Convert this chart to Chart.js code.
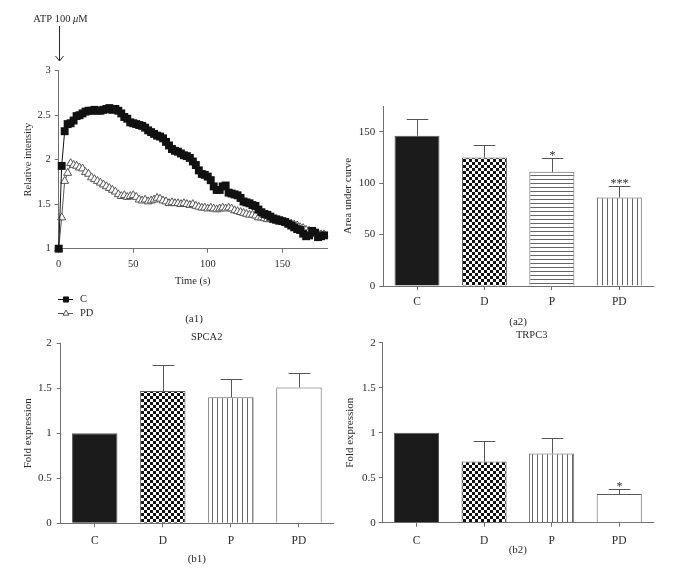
<!DOCTYPE html>
<html>
<head>
<meta charset="utf-8">
<script src="https://cdn.jsdelivr.net/npm/chart.js@4.4.1/dist/chart.umd.min.js"></script>
<style>
html, body { margin: 0; padding: 0; background: #fff; }
#wrap { position: relative; width: 684px; height: 573px; overflow: hidden; }
canvas { position: absolute; }
</style>
</head>
<body>
<div id="wrap">
  <canvas id="a1" width="340" height="330" style="left:0px;top:0px;width:340px;height:330px"></canvas>
  <canvas id="a2" width="344" height="270" style="left:340px;top:60px;width:344px;height:270px"></canvas>
  <canvas id="b1" width="340" height="243" style="left:0px;top:330px;width:340px;height:243px"></canvas>
  <canvas id="b2" width="344" height="243" style="left:340px;top:330px;width:344px;height:243px"></canvas>
</div>
<script>
// --- data ---
const timeSec = [0, 2, 4, 6, 8, 10, 12, 14, 16, 18, 20, 22, 24, 26, 28, 30, 32, 34, 36, 38,
  40, 42, 44, 46, 48, 50, 52, 54, 56, 58, 60, 62, 64, 66, 68, 70, 72, 74, 76, 78,
  80, 82, 84, 86, 88, 90, 92, 94, 96, 98, 100, 102, 104, 106, 108, 110, 112, 114, 116, 118,
  120, 122, 124, 126, 128, 130, 132, 134, 136, 138, 140, 142, 144, 146, 148, 150, 152, 154, 156, 158,
  160, 162, 164, 166, 168, 170, 172, 174, 176, 178];

const controlIntensity = [1.00, 1.93, 2.32, 2.40, 2.41, 2.44, 2.49, 2.50, 2.52, 2.54,
  2.55, 2.55, 2.56, 2.55, 2.55, 2.56, 2.57, 2.58, 2.56, 2.57,
  2.55, 2.52, 2.48, 2.46, 2.42, 2.41, 2.40, 2.39, 2.38, 2.36,
  2.33, 2.31, 2.29, 2.27, 2.26, 2.24, 2.20, 2.16, 2.12, 2.10,
  2.09, 2.07, 2.05, 2.04, 2.02, 1.98, 1.94, 1.88, 1.84, 1.83,
  1.81, 1.77, 1.70, 1.66, 1.66, 1.70, 1.71, 1.63, 1.62, 1.61,
  1.60, 1.57, 1.53, 1.52, 1.51, 1.49, 1.48, 1.44, 1.41, 1.39,
  1.38, 1.36, 1.34, 1.33, 1.32, 1.31, 1.30, 1.28, 1.26, 1.24,
  1.22, 1.21, 1.17, 1.14, 1.15, 1.20, 1.18, 1.13, 1.14, 1.15];

const pdIntensity = [1.00, 1.35, 1.76, 1.85, 1.96, 1.94, 1.93, 1.91, 1.90, 1.86,
  1.84, 1.80, 1.78, 1.76, 1.74, 1.72, 1.70, 1.68, 1.66, 1.64,
  1.61, 1.59, 1.60, 1.58, 1.59, 1.60, 1.58, 1.55, 1.54, 1.55,
  1.53, 1.54, 1.55, 1.57, 1.56, 1.54, 1.53, 1.51, 1.52, 1.51,
  1.51, 1.50, 1.51, 1.50, 1.49, 1.50, 1.48, 1.47, 1.46, 1.46,
  1.45, 1.46, 1.45, 1.44, 1.45, 1.46, 1.45, 1.46, 1.45, 1.43,
  1.42, 1.41, 1.40, 1.39, 1.38, 1.38, 1.37, 1.35, 1.35, 1.34,
  1.33, 1.33, 1.32, 1.31, 1.30, 1.30, 1.29, 1.28, 1.28, 1.27,
  1.26, 1.24, 1.23, 1.21, 1.20, 1.19, 1.18, 1.17, 1.16, 1.16];

const groups = ['C', 'D', 'P', 'PD'];

const aucMean = [146, 125, 111, 86];
const aucSem = [16, 12, 13, 11];
const aucStars = ['', '', '*', '***'];

const spcaMean = [1.0, 1.47, 1.40, 1.51];
const spcaSem = [0, 0.29, 0.20, 0.16];
const spcaStars = ['', '', '', ''];

const trpcMean = [1.0, 0.68, 0.77, 0.32];
const trpcSem = [0, 0.23, 0.17, 0.06];
const trpcStars = ['', '', '', '*'];

const a1XTicks = [0, 50, 100, 150];
const a1YTicks = [1, 1.5, 2, 2.5, 3];

// --- common look ---
const SERIF = "'Liberation Serif', 'Times New Roman', serif";
const AXIS = '#707070';
const INK = '#2a2a2a';
Chart.defaults.font.family = SERIF;
Chart.defaults.color = INK;

// fill patterns for the bars
function makePattern(kind) {
    const c = document.createElement('canvas');
    const g = c.getContext('2d');
    if (kind === 'checker') {
        c.width = 6; c.height = 6;
        g.fillStyle = '#fff'; g.fillRect(0, 0, 6, 6);
        g.fillStyle = '#111';
        g.fillRect(0, 0, 3, 3); g.fillRect(3, 3, 3, 3);
    } else if (kind === 'hlines') {
        c.width = 4; c.height = 4;
        g.fillStyle = '#fff'; g.fillRect(0, 0, 4, 4);
        g.fillStyle = '#666'; g.fillRect(0, 3, 4, 1);
    } else if (kind === 'vlines') {
        c.width = 5; c.height = 5;
        g.fillStyle = '#fff'; g.fillRect(0, 0, 5, 5);
        g.fillStyle = '#666'; g.fillRect(2, 0, 1, 5);
    }
    return g.createPattern(c, 'repeat');
}
const SOLID = '#1b1b1b';
const CHECK = makePattern('checker');
const HLINE = makePattern('hlines');
const VLINE = makePattern('vlines');

// tick text as in the figure: 1, 1.5, 2 ...
const plainTick = v => String(Number(v));

// error bars (upward, SEM) and significance stars
const errorBars = {
    id: 'errorBars',
    afterDatasetsDraw(chart, args, opts) {
        const ctx = chart.ctx;
        const yScale = chart.scales.y;
        const values = chart.data.datasets[0].data;
        ctx.save();
        ctx.strokeStyle = '#555';
        ctx.lineWidth = 1;
        chart.getDatasetMeta(0).data.forEach((bar, i) => {
            const x = Math.round(bar.x) + 0.5;
            const top = yScale.getPixelForValue(values[i] + opts.sem[i]);
            if (opts.sem[i] > 0) {
                const half = bar.width * 0.24;
                const yc = Math.round(top) + 0.5;
                ctx.beginPath();
                ctx.moveTo(x, bar.y);
                ctx.lineTo(x, yc);
                ctx.moveTo(x - half, yc);
                ctx.lineTo(x + half, yc);
                ctx.stroke();
            }
            if (opts.stars[i]) {
                ctx.fillStyle = INK;
                ctx.font = '12px ' + SERIF;
                ctx.textAlign = 'center';
                ctx.textBaseline = 'alphabetic';
                ctx.fillText(opts.stars[i], x, top + 1);
            }
        });
        ctx.restore();
    }
};

// free text (panel titles)
const panelText = {
    id: 'panelText',
    afterDraw(chart, args, opts) {
        const ctx = chart.ctx;
        ctx.save();
        (opts.items || []).forEach(t => {
            ctx.font = (t.size || 11) + 'px ' + SERIF;
            ctx.fillStyle = INK;
            ctx.textAlign = 'center';
            ctx.textBaseline = 'middle';
            ctx.fillText(t.text, t.x, t.y);
        });
        ctx.restore();
    }
};

// ATP arrow, legend and panel label for the time course
const a1Extras = {
    id: 'a1Extras',
    afterDraw(chart) {
        const ctx = chart.ctx;
        const x0 = Math.round(chart.scales.x.getPixelForValue(0)) + 0.5;
        ctx.save();
        ctx.fillStyle = INK;
        ctx.strokeStyle = INK;
        ctx.lineWidth = 1;

        // "ATP 100 µM" with italic mu
        const parts = [['ATP 100 ', ''], ['\u03bc', 'italic '], ['M', '']];
        let total = 0;
        parts.forEach(p => { ctx.font = p[1] + '10.5px ' + SERIF; total += ctx.measureText(p[0]).width; });
        let tx = x0 + 1 - total / 2;
        ctx.textBaseline = 'alphabetic';
        ctx.textAlign = 'left';
        parts.forEach(p => {
            ctx.font = p[1] + '10.5px ' + SERIF;
            ctx.fillText(p[0], tx, 22);
            tx += ctx.measureText(p[0]).width;
        });

        ctx.beginPath();
        ctx.moveTo(x0, 26);
        ctx.lineTo(x0, 61);
        ctx.moveTo(x0 - 4, 56);
        ctx.lineTo(x0, 61);
        ctx.lineTo(x0 + 4, 56);
        ctx.stroke();

        // legend
        const rows = [
            { label: 'C', ds: 0, y: 299, r: 3.6 },
            { label: 'PD', ds: 1, y: 313, r: 3.4 }
        ];
        rows.forEach(row => {
            const ds = chart.data.datasets[row.ds];
            ctx.strokeStyle = ds.borderColor;
            ctx.lineWidth = 1;
            ctx.beginPath();
            ctx.moveTo(58, row.y + 0.5);
            ctx.lineTo(73, row.y + 0.5);
            ctx.stroke();
            ctx.fillStyle = ds.pointBackgroundColor;
            ctx.strokeStyle = ds.pointBorderColor;
            Chart.helpers.drawPoint(ctx, { pointStyle: ds.pointStyle, radius: row.r, rotation: 0, borderWidth: 1 }, 66, row.y + 0.5);
            ctx.fillStyle = INK;
            ctx.font = '10.5px ' + SERIF;
            ctx.textAlign = 'left';
            ctx.textBaseline = 'middle';
            ctx.fillText(row.label, 80, row.y);
        });

        ctx.font = '11px ' + SERIF;
        ctx.textAlign = 'center';
        ctx.fillText('(a1)', 194, 319);
        ctx.restore();
    }
};

function axisGrid(len) {
    return { drawOnChartArea: false, drawTicks: true, tickLength: len, color: AXIS, offset: false };
}

// --- (a1) time course ---
new Chart(document.getElementById('a1'), {
    type: 'line',
    data: {
        datasets: [
            {
                label: 'C',
                data: timeSec.map((t, i) => ({ x: t, y: controlIntensity[i] })),
                borderColor: '#111',
                borderWidth: 1,
                pointStyle: 'rect',
                pointRadius: 5.6,
                pointBackgroundColor: '#111',
                pointBorderColor: '#111',
                pointBorderWidth: 0,
                clip: false
            },
            {
                label: 'PD',
                data: timeSec.map((t, i) => ({ x: t, y: pdIntensity[i] })),
                borderColor: '#555',
                borderWidth: 1,
                pointStyle: 'triangle',
                pointRadius: 4.6,
                pointBackgroundColor: '#fff',
                pointBorderColor: '#555',
                pointBorderWidth: 1,
                clip: false
            }
        ]
    },
    options: {
        responsive: false,
        animation: false,
        devicePixelRatio: 1,
        layout: { autoPadding: false, padding: { left: 0, right: 13, top: 70.7, bottom: 41.3 } },
        plugins: { legend: { display: false }, tooltip: { enabled: false } },
        scales: {
            x: {
                type: 'linear',
                min: 0, max: 180,
                afterFit: s => { s.height = 40; },
                afterBuildTicks: s => { s.ticks = a1XTicks.map(v => ({ value: v })); },
                grid: axisGrid(4),
                border: { color: AXIS },
                ticks: { font: { size: 10.5 }, padding: 5, color: INK, callback: plainTick },
                title: { display: true, text: 'Time (s)', font: { size: 10.5 }, padding: { top: 0, bottom: 1.4 }, color: INK }
            },
            y: {
                min: 1, max: 3,
                afterFit: s => { s.width = 58.7; },
                afterBuildTicks: s => { s.ticks = a1YTicks.map(v => ({ value: v })); },
                grid: axisGrid(4),
                border: { color: AXIS },
                ticks: { font: { size: 10.5 }, padding: 4, color: INK, callback: plainTick },
                title: { display: true, text: 'Relative intensity', font: { size: 10.5 }, padding: { top: 22, bottom: 0 }, color: INK }
            }
        }
    },
    plugins: [a1Extras]
});

// --- bar panels ---
function barPanel(id, cfg) {
    return new Chart(document.getElementById(id), {
        type: 'bar',
        data: {
            labels: groups,
            datasets: [{
                data: cfg.mean,
                backgroundColor: cfg.fills,
                borderColor: '#5a5a5a',
                borderWidth: 1,
                borderSkipped: 'bottom',
                barPercentage: 0.667,
                categoryPercentage: 1
            }]
        },
        options: {
            responsive: false,
            animation: false,
            devicePixelRatio: 1,
            layout: { autoPadding: false, padding: cfg.padding },
            plugins: {
                legend: { display: false },
                tooltip: { enabled: false },
                errorBars: { sem: cfg.sem, stars: cfg.stars },
                panelText: { items: cfg.texts || [] }
            },
            scales: {
                x: {
                    afterFit: s => { s.height = cfg.xHeight; },
                    grid: axisGrid(4),
                    border: { color: AXIS },
                    ticks: { font: { size: 11.5 }, padding: cfg.xPad, color: INK },
                    title: { display: true, text: cfg.panel, font: { size: 11 }, padding: { top: 0, bottom: cfg.panelPad }, color: INK }
                },
                y: {
                    min: 0, max: cfg.yMax,
                    afterFit: s => { s.width = cfg.yWidth; },
                    afterBuildTicks: s => { s.ticks = cfg.yTicks.map(v => ({ value: v })); },
                    grid: axisGrid(4),
                    border: { color: AXIS },
                    ticks: { font: { size: 11 }, padding: cfg.yPad, color: INK, callback: plainTick },
                    title: { display: true, text: cfg.yTitle, font: { size: 11 }, padding: { top: cfg.yTitlePad, bottom: 0 }, color: INK }
                }
            }
        },
        plugins: [errorBars, panelText]
    });
}

barPanel('a2', {
    mean: aucMean, sem: aucSem, stars: aucStars,
    fills: [SOLID, CHECK, HLINE, VLINE],
    yMax: 175, yTicks: [0, 50, 100, 150],
    yTitle: 'Area under curve', panel: '(a2)',
    padding: { left: 0, right: 31, top: 46, bottom: 0 },
    xHeight: 44, yWidth: 43.3, xPad: 5, yPad: 4, panelPad: 1.7, yTitlePad: 1.7
});

barPanel('b1', {
    mean: spcaMean, sem: spcaSem, stars: spcaStars,
    fills: [SOLID, CHECK, VLINE, '#fff'],
    yMax: 2, yTicks: [0, 0.5, 1, 1.5, 2],
    yTitle: 'Fold expression', panel: '(b1)',
    padding: { left: 0, right: 7, top: 13.3, bottom: 0 },
    xHeight: 49.7, yWidth: 60.7, xPad: 7, yPad: 5, panelPad: 7.1, yTitlePad: 21.4,
    texts: [{ text: 'SPCA2', x: 206.7, y: 7.3, size: 10.5 }]
});

barPanel('b2', {
    mean: trpcMean, sem: trpcSem, stars: trpcStars,
    fills: [SOLID, CHECK, VLINE, '#fff'],
    yMax: 2, yTicks: [0, 0.5, 1, 1.5, 2],
    yTitle: 'Fold expression', panel: '(b2)',
    padding: { left: 0, right: 31, top: 12.7, bottom: 0 },
    xHeight: 50.3, yWidth: 42.7, xPad: 7, yPad: 3, panelPad: 16.4, yTitlePad: 3.4,
    texts: [{ text: 'TRPC3', x: 191.7, y: 5.5, size: 10.5 }]
});
</script>
</body>
</html>
